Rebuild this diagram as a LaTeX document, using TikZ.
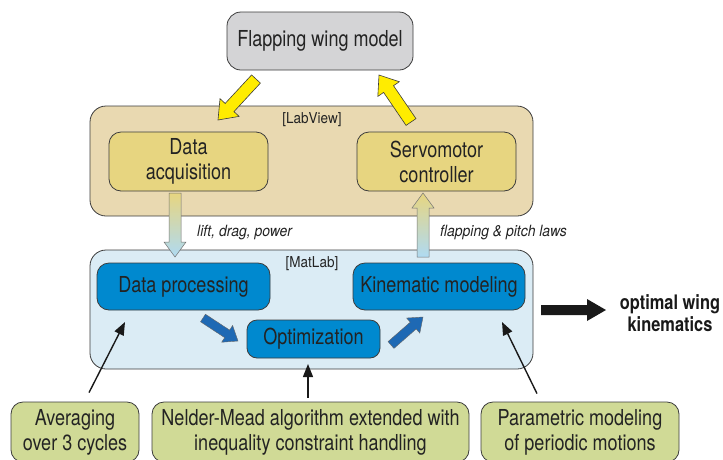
\documentclass[tikz,border=0pt]{standalone}
\usepackage{fontspec}
\setmainfont{TeX Gyre Heros}[FakeStretch=0.82]
\newfontfamily\lblfont{TeX Gyre Heros}[FakeStretch=0.9]
\usetikzlibrary{calc,arrows.meta}
\definecolor{modelgray}{RGB}{212,212,214}
\definecolor{labtan}{RGB}{233,217,177}
\definecolor{ybox}{RGB}{231,213,128}
\definecolor{matblue}{RGB}{219,236,245}
\definecolor{bbox}{RGB}{0,137,207}
\definecolor{gbox}{RGB}{208,218,150}
\definecolor{yarrow}{RGB}{255,236,0}
\definecolor{barrow}{RGB}{30,105,180}
\definecolor{edgegray}{RGB}{60,60,60}
\definecolor{txt}{RGB}{35,35,35}
\definecolor{lblue}{RGB}{175,218,242}
\newcommand\fatarrow[6][]{%
  \coordinate (fahead) at ($(#3)!#6!(#2)$);
  \path[#1] ($(#2)!#4!90:(#3)$) -- ($(fahead)!#4!90:(#3)$) -- ($(fahead)!#5!90:(#3)$) -- (#3)
    -- ($(fahead)!#5!-90:(#3)$) -- ($(fahead)!#4!-90:(#3)$) -- ($(#2)!#4!-90:(#3)$) -- cycle;
}
\tikzset{
  box/.style={draw=edgegray, line width=0.8pt, rounded corners=#1, inner sep=0pt, align=center, text=txt, font=\fontsize{22}{25}\selectfont},
  box/.default=12pt,
  lbl/.style={text=txt, font=\lblfont\fontsize{15}{17}\selectfont, inner sep=0pt},
  flow/.style={text=txt, font=\lblfont\itshape\fontsize{15.5}{17}\selectfont, inner sep=0pt, anchor=west},
  thin arrow/.style={draw=black!90, line width=1.4pt, -{Triangle[length=13pt,width=10pt]}},
}
\begin{document}
\begin{tikzpicture}[x=1pt,y=-1pt]
\useasboundingbox (0,0) rectangle (723,459);
% containers
\node[box=16pt, fill=labtan, minimum width=443pt, minimum height=110pt] (labview) at (311.5,161) {};
\node[box=16pt, fill=matblue, minimum width=443pt, minimum height=119pt] (matlab) at (311.5,309.5) {};
\node[lbl] (labviewlbl) at (312,120) {[LabView]};
\node[lbl] (matlablbl) at (312,264) {[MatLab]};
% boxes
\node[box=14pt, fill=modelgray, minimum width=186pt, minimum height=58pt] (model) at (320,41) {Flapping wing model};
\node[box, fill=ybox, minimum width=159pt, minimum height=59pt] (daq) at (188.5,161.5) {Data\\acquisition};
\node[box, fill=ybox, minimum width=159pt, minimum height=59pt] (servo) at (436.5,161.5) {Servomotor\\controller};
\node[box, fill=bbox, minimum width=173pt, minimum height=47pt] (dproc) at (183.5,286.5) {Data processing};
\node[box, fill=bbox, minimum width=172pt, minimum height=47pt] (kin) at (439,286.5) {Kinematic modeling};
\node[box=10pt, fill=bbox, minimum width=133pt, minimum height=38pt] (opt) at (313.5,339) {Optimization};
\node[box, fill=gbox, minimum width=128pt, minimum height=60pt] (avg) at (75,432) {Averaging\\over 3 cycles};
\node[box, fill=gbox, minimum width=317pt, minimum height=60pt] (nm) at (310.5,432) {Nelder-Mead algorithm extended with\\inequality constraint handling};
\node[box, fill=gbox, minimum width=198pt, minimum height=60pt] (par) at (580,432) {Parametric modeling\\of periodic motions};
% yellow arrows
\coordinate (ya1) at (256,79);
\coordinate (yb1) at (218,120);
\coordinate (ya2) at (411,122);
\coordinate (yb2) at (379,75);
\fatarrow[draw=edgegray, line width=0.6pt, fill=yarrow, line join=miter]{ya1}{yb1}{6pt}{13pt}{17pt}
\fatarrow[draw=edgegray, line width=0.6pt, fill=yarrow, line join=miter]{ya2}{yb2}{6pt}{13pt}{17pt}
% gradient arrows
\coordinate (ga1) at (175,193);
\coordinate (gb1) at (175,257);
\coordinate (ga2) at (423,257);
\coordinate (gb2) at (423,193);
\fatarrow[draw=black!55, line width=0.5pt, top color=ybox, bottom color=lblue]{ga1}{gb1}{6pt}{11pt}{15pt}
\fatarrow[draw=black!55, line width=0.5pt, top color=ybox, bottom color=lblue]{ga2}{gb2}{6pt}{11pt}{15pt}
\node[flow] (flowdown) at (197,233) {lift, drag, power};
\node[flow] (flowup) at (440,233) {flapping \& pitch laws};
% blue arrows
\coordinate (ba1) at (203,318);
\coordinate (bb1) at (238,341);
\coordinate (ba2) at (391,345);
\coordinate (bb2) at (423,317);
\fatarrow[draw=black!60, line width=0.4pt, fill=barrow]{ba1}{bb1}{4.5pt}{10pt}{13pt}
\fatarrow[draw=black!60, line width=0.4pt, fill=barrow]{ba2}{bb2}{4.5pt}{10pt}{13pt}
% thin black arrows
\coordinate (ta1) at (125,322);
\coordinate (ta2) at (308,364);
\coordinate (ta3) at (502,322);
\draw[thin arrow] (avg.north) ++(14,-9) -- (ta1);
\draw[thin arrow] (nm.north) ++(-2.5,-4) -- (ta2);
\draw[thin arrow] (par.north) ++(-43,-8) -- (ta3);
% output
\coordinate (oa) at (541,310);
\coordinate (ob) at (606,310);
\fatarrow[fill=black!90]{oa}{ob}{5pt}{11pt}{19pt}
\node[text=black!90, font=\bfseries\fontsize{20}{22}\selectfont, align=center, inner sep=0pt] (out) at (670,313) {optimal wing\\kinematics};
\end{tikzpicture}
\end{document}
